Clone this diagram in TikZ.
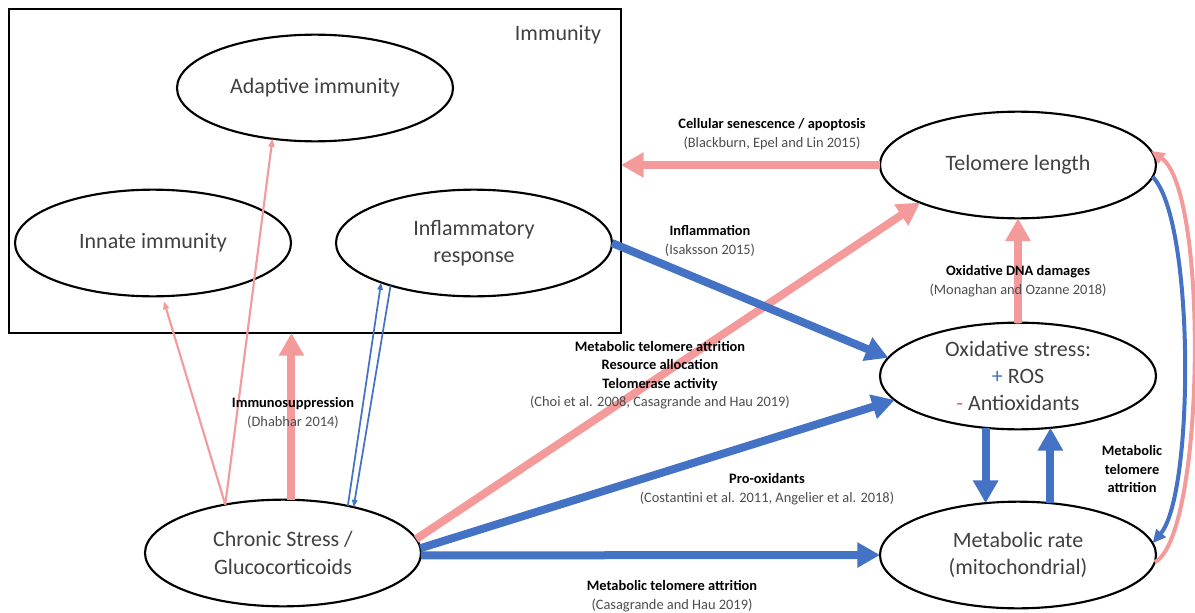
\documentclass[tikz,border=0pt]{standalone}
\usepackage{fontspec}
\setmainfont{Carlito}
\usepackage{xcolor}
\usepackage{tikz}
\usetikzlibrary{arrows.meta}
\usetikzlibrary{shapes.geometric}
\pgfdeclarelayer{nodelayer}
\pgfdeclarelayer{edgelayer}
\pgfsetlayers{nodelayer,edgelayer,main}
\definecolor{pinkarrow}{RGB}{244,154,154}
\definecolor{bluearrow}{RGB}{68,114,196}
\definecolor{minusred}{RGB}{232,104,104}
\definecolor{nodetext}{RGB}{64,64,64}
\newcommand{\refsrc}[1]{{\color{black!70}#1}}
\tikzset{
    none/.style = {inner sep=0pt},
    oval/.style = {ellipse, draw, line width=1.6pt, minimum width=207pt, minimum height=80pt,
        inner sep=0pt, outer sep=0pt, align=center, text=nodetext, font=\fontsize{16.5}{20.5}\selectfont},
    immframe/.style = {draw, line width=2pt, minimum width=459pt, minimum height=243pt,
        inner sep=0pt, outer sep=0pt},
    note/.style = {none, align=center, font=\fontsize{10.8}{13.8}\selectfont},
    bigpink/.style = {pinkarrow, line width=6pt, -{Triangle[length=17pt, width=18pt]}},
    bigblue/.style = {bluearrow, line width=6pt, -{Triangle[length=17pt, width=18pt]}},
    thinpink/.style = {pinkarrow, line width=1.6pt, -{Triangle[length=6pt, width=4.5pt]}},
    thinblue/.style = {bluearrow, line width=1.3pt, -{Triangle[length=5.5pt, width=4pt]}},
    curvepink/.style = {pinkarrow, line width=3pt, -{Triangle[length=10pt, width=9pt]}},
    curveblue/.style = {bluearrow, line width=3pt, -{Triangle[length=10pt, width=9pt]}}
}
\begin{document}
\begin{tikzpicture}[x=0.75pt, y=0.75pt]
    \useasboundingbox (0,0) rectangle (1195,612);
    \begin{pgfonlayer}{nodelayer}
        \node [immframe] (immbox) at (315, 441) {};
        \node [none, text=nodetext, font=\fontsize{16.5}{19}\selectfont] (immlabel) at (558, 577) {Immunity};
        \node [oval] (adapt) at (315, 524) {Adaptive immunity};
        \node [oval] (innate) at (153, 369) {Innate immunity};
        \node [oval] (inflam) at (474, 369) {Inflammatory\\response};
        \node [oval] (tel) at (1018, 447) {Telomere length};
        \node [oval] (oxid) at (1018, 236) {Oxidative stress:\\{\color{bluearrow}+} ROS\\{\color{minusred}-} Antioxidants};
        \node [oval] (metab) at (1018, 57) {Metabolic rate\\(mitochondrial)};
        \node [oval] (chronic) at (283, 59) {Chronic Stress /\\Glucocorticoids};
    \end{pgfonlayer}
    \begin{pgfonlayer}{edgelayer}
        % Stress acting on immunity
        \draw [thinpink, shorten >=4pt] (chronic.140) -- (innate.-80);
        \draw [thinpink] (chronic.140) -- (adapt.230);
        \draw [bigpink] (chronic.81) -- (chronic.81 |- immbox.south);
        \draw [thinblue] (chronic.36) -- (inflam.203);
        \draw [thinblue] (inflam.207) -- (chronic.33);
        % Stress acting on telomeres, oxidative stress and metabolism
        \draw [bigpink] (chronic.6) -- (tel.201);
        \draw [bigblue] (chronic.2) -- (oxid.191);
        \draw [bigblue] (chronic.-1) -- (metab.west);
        \draw [bigblue] (inflam.east) -- (oxid.172);
        % Links around telomere length
        \draw [bigpink] (tel.west) -- (tel.west -| immbox.east);
        \draw [bigpink] (oxid.north) -- (tel.south);
        \draw [bigblue] (oxid.238) -- (metab.122);
        \draw [bigblue] (metab.58) -- (oxid.-58);
        \draw [curveblue] (tel.-5) .. controls +(42,-42) and +(42,50) .. (metab.5);
        \draw [curvepink] (metab.-3) .. controls +(50,25) and +(58,-40) .. (tel.6);
    \end{pgfonlayer}
    % Arrow labels sit over the lines
    \node [note] (lblsen) at (772, 478) {\textbf{Cellular senescence / apoptosis}\\\refsrc{(Blackburn, Epel and Lin 2015)}};
    \node [note] (lblinfl) at (710, 371) {\textbf{Inflammation}\\\refsrc{(Isaksson 2015)}};
    \node [note] (lblattr) at (660, 237) {\textbf{Metabolic telomere attrition}\\\textbf{Resource allocation}\\\textbf{Telomerase activity}\\\refsrc{(Choi et al. 2008, Casagrande and Hau 2019)}};
    \node [note] (lblprox) at (767, 123) {\textbf{Pro-oxidants}\\\refsrc{(Costantini et al. 2011, Angelier et al. 2018)}};
    \node [note] (lblmeta) at (672, 16) {\textbf{Metabolic telomere attrition}\\\refsrc{(Casagrande and Hau 2019)}};
    \node [note] (lblsupp) at (293, 199) {\textbf{Immunosuppression}\\\refsrc{(Dhabhar 2014)}};
    \node [note] (lbldna) at (1018, 331) {\textbf{Oxidative DNA damages}\\\refsrc{(Monaghan and Ozanne 2018)}};
    \node [note] (lblmtr) at (1132, 143) {\textbf{Metabolic}\\\textbf{telomere}\\\textbf{attrition}};
\end{tikzpicture}
\end{document}
